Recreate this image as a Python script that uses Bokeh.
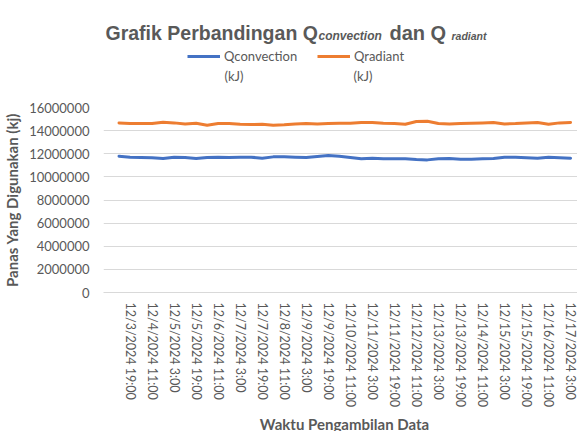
from bokeh.plotting import figure
from bokeh.layouts import column
from bokeh.models import Legend, LegendItem, Label, FixedTicker, Range1d, PrintfTickFormatter
from bokeh.embed import file_html
from bokeh.resources import INLINE

waktu = [
    "12/3/2024 11:00", "12/3/2024 19:00", "12/4/2024 3:00", "12/4/2024 11:00",
    "12/4/2024 19:00", "12/5/2024 3:00", "12/5/2024 11:00", "12/5/2024 19:00",
    "12/6/2024 3:00", "12/6/2024 11:00", "12/6/2024 19:00", "12/7/2024 3:00",
    "12/7/2024 11:00", "12/7/2024 19:00", "12/8/2024 3:00", "12/8/2024 11:00",
    "12/8/2024 19:00", "12/9/2024 3:00", "12/9/2024 11:00", "12/9/2024 19:00",
    "12/10/2024 3:00", "12/10/2024 11:00", "12/10/2024 19:00", "12/11/2024 3:00",
    "12/11/2024 11:00", "12/11/2024 19:00", "12/12/2024 3:00", "12/12/2024 11:00",
    "12/12/2024 19:00", "12/13/2024 3:00", "12/13/2024 11:00", "12/13/2024 19:00",
    "12/14/2024 3:00", "12/14/2024 11:00", "12/14/2024 19:00", "12/15/2024 3:00",
    "12/15/2024 11:00", "12/15/2024 19:00", "12/16/2024 3:00", "12/16/2024 11:00",
    "12/16/2024 19:00", "12/17/2024 3:00",
]

q_convection = [
    11790000, 11700000, 11670000, 11650000, 11590000, 11700000, 11670000, 11590000,
    11670000, 11700000, 11670000, 11700000, 11700000, 11620000, 11730000, 11730000,
    11700000, 11670000, 11760000, 11850000, 11790000, 11670000, 11560000, 11620000,
    11560000, 11560000, 11560000, 11500000, 11470000, 11560000, 11590000, 11530000,
    11530000, 11560000, 11590000, 11700000, 11700000, 11650000, 11620000, 11700000,
    11650000, 11620000,
]

q_radiant = [
    14670000, 14610000, 14610000, 14610000, 14730000, 14670000, 14580000, 14640000,
    14470000, 14610000, 14610000, 14550000, 14530000, 14550000, 14470000, 14500000,
    14580000, 14610000, 14580000, 14610000, 14630000, 14640000, 14700000, 14700000,
    14640000, 14610000, 14550000, 14790000, 14810000, 14610000, 14580000, 14610000,
    14640000, 14670000, 14700000, 14580000, 14610000, 14670000, 14700000, 14550000,
    14670000, 14700000,
]

y_ticks = [0, 2000000, 4000000, 6000000, 8000000, 10000000, 12000000, 14000000, 16000000]
series_names = ["Qconvection", "Qradiant"]
series_colors = ["#4472C4", "#ED7D31"]

idx = list(range(len(waktu)))
label_idx = idx[1::2]

GRAY = "#595959"
BODY = "Lato"

def blank_fig(h):
    f = figure(width=577, height=h, output_backend="svg", toolbar_location=None,
               x_range=Range1d(0, 1), y_range=Range1d(0, 1),
               min_border=0, min_border_left=0, min_border_right=0,
               min_border_top=0, min_border_bottom=0)
    f.axis.visible = False
    f.grid.visible = False
    f.outline_line_color = None
    return f

# ---- header: title + legend ----
head = blank_fig(99)
# off-screen stand-ins so the legend can draw its line samples
leg_rends = [head.line([-5, -4], [-5, -4], line_color=c, line_width=3) for c in series_colors]

def make_legend(label, rend, x):
    return Legend(items=[LegendItem(label=label, renderers=[rend])], location=(x, 35),
                  orientation="horizontal", padding=0, margin=0, border_line_color=None,
                  background_fill_alpha=0, glyph_width=33, glyph_height=14, label_height=14,
                  label_standoff=4, label_text_font=BODY, label_text_font_size="13px",
                  label_text_color=GRAY)

head.add_layout(make_legend(series_names[0], leg_rends[0], 84))
head.add_layout(make_legend(series_names[1], leg_rends[1], 214))

for lx in (121, 250):
    head.add_layout(Label(x=lx, y=24, x_units="screen", y_units="screen", text="(kJ)",
                          text_baseline="middle", text_font=BODY, text_font_size="13px",
                          text_color=GRAY))

title_parts = [
    ("Grafik Perbandingan Q", 2, 67, "bold", "19.5px"),
    ("convection", 215, 64, "bold italic", "12px"),
    ("dan Q", 286, 67, "bold", "20px"),
    ("radiant", 348, 64, "bold italic", "10.5px"),
]
for txt, tx, ty, style, size in title_parts:
    head.add_layout(Label(x=tx, y=ty, x_units="screen", y_units="screen", text=txt,
                          text_baseline="alphabetic", text_font="Liberation Sans",
                          text_font_style=style, text_font_size=size, text_color=GRAY))

# ---- main chart ----
p = figure(width=577, height=315, output_backend="svg", toolbar_location=None,
           x_range=Range1d(-1.41, 41.63), y_range=Range1d(0, 16000000),
           min_border_left=95, min_border_right=0, min_border_top=8, min_border_bottom=122)
p.outline_line_color = None

p.line(idx, q_convection, line_color=series_colors[0], line_width=3, line_join="round", line_cap="round")
p.line(idx, q_radiant, line_color=series_colors[1], line_width=3, line_join="round", line_cap="round")

p.xgrid.visible = False
p.ygrid.grid_line_color = "#d9d9d9"
p.ygrid.grid_line_width = 1

p.yaxis.ticker = FixedTicker(ticks=y_ticks)
p.yaxis.formatter = PrintfTickFormatter(format="%d")
p.yaxis.axis_line_color = None
p.yaxis.major_tick_line_color = None
p.yaxis.minor_tick_line_color = None
p.yaxis.major_tick_out = 0
p.yaxis.major_tick_in = 0
p.yaxis.major_label_standoff = 14
p.yaxis.major_label_text_font = BODY
p.yaxis.major_label_text_font_size = "13px"
p.yaxis.major_label_text_color = GRAY
p.yaxis.axis_label = "Panas Yang Digunakan (kj)"
p.yaxis.axis_label_text_font = BODY
p.yaxis.axis_label_text_font_style = "bold"
p.yaxis.axis_label_text_font_size = "15px"
p.yaxis.axis_label_text_color = GRAY
p.yaxis.axis_label_standoff = 5

p.xaxis.ticker = FixedTicker(ticks=label_idx)
p.xaxis.major_label_overrides = {i: waktu[i] for i in label_idx}
p.xaxis.major_label_orientation = "vertical"
p.xaxis.axis_line_color = "#d9d9d9"
p.xaxis.major_tick_line_color = None
p.xaxis.minor_tick_line_color = None
p.xaxis.major_tick_out = 0
p.xaxis.major_tick_in = 0
p.xaxis.major_label_standoff = 10
p.xaxis.major_label_text_font = BODY
p.xaxis.major_label_text_font_size = "12.5px"
p.xaxis.major_label_text_color = GRAY

# ---- footer: x axis title ----
foot = blank_fig(17)
foot.add_layout(Label(x=241, y=8, x_units="screen", y_units="screen",
                      text="Waktu Pengambilan Data", text_align="center",
                      text_baseline="middle", text_font=BODY, text_font_style="bold",
                      text_font_size="15px", text_color=GRAY))

open("out.html", "w").write(file_html(column(head, p, foot, spacing=0), INLINE))
